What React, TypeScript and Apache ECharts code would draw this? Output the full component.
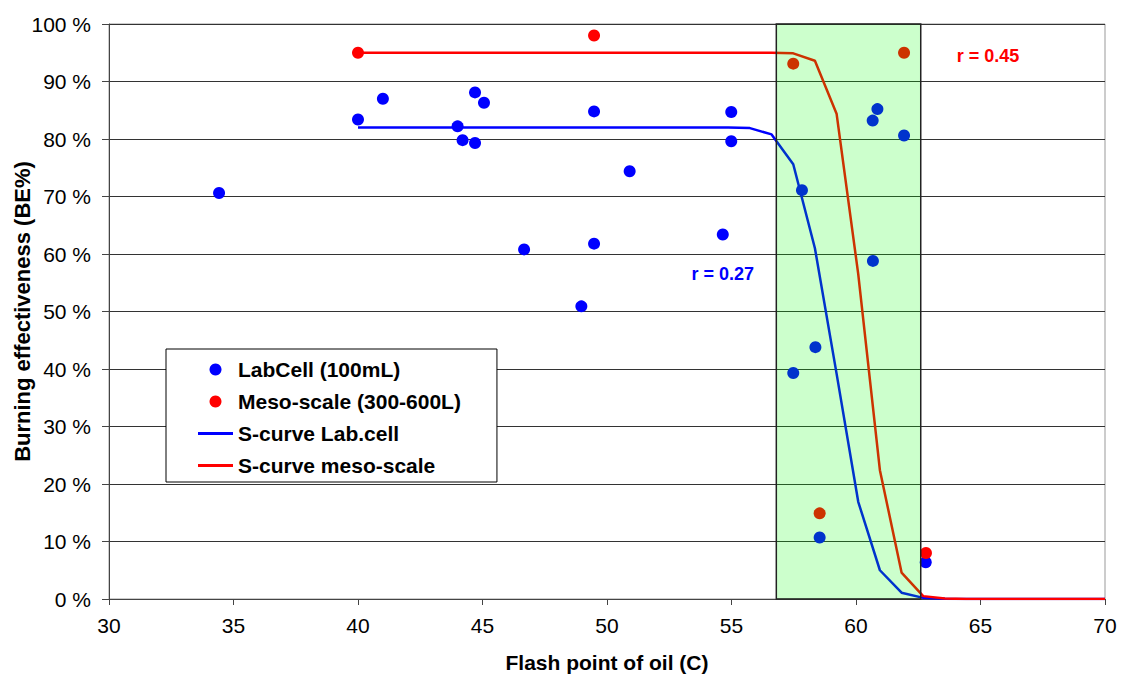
import React, { useEffect, useRef } from "react";
import * as echarts from "echarts";

// LabCell (100mL) measurements: [flash point (C), BE %]
const labCellPoints: number[][] = [
  [34.42, 70.6], [40.0, 83.4], [41.0, 87.0], [44.0, 82.2], [44.2, 79.8],
  [44.7, 88.1], [45.06, 86.3], [44.7, 79.3], [49.48, 84.8], [50.91, 74.4],
  [46.67, 60.8], [49.48, 61.8], [48.97, 50.9], [54.99, 84.7], [54.99, 79.6],
  [54.65, 63.4], [57.83, 71.1], [57.48, 39.3], [58.37, 43.8], [60.68, 58.8],
  [60.67, 83.2], [60.86, 85.2], [61.93, 80.6], [58.54, 10.7], [62.8, 6.4],
];

// Meso-scale (300-600L) measurements
const mesoPoints: number[][] = [
  [40.0, 95.0], [49.48, 98.0], [57.48, 93.1], [61.93, 95.0], [58.54, 14.9], [62.81, 8.0],
];

// S-curves
const curveX: number[] = [40, 54.87, 55.74, 56.61, 57.48, 58.35, 59.22, 60.09, 60.96, 61.83, 62.7, 63.57, 64.44, 70];
const labCurveY: number[] = [82, 82, 81.9, 80.8, 75.6, 61.0, 39.2, 16.9, 5.0, 1.1, 0.2, 0.03, 0, 0];
const mesoCurveY: number[] = [95, 95, 95, 95, 94.9, 93.6, 84.4, 56.5, 22.4, 4.6, 0.5, 0.1, 0, 0];

// Highlighted flash point range
const zoneRange: number[] = [56.8, 62.6];

// Correlation annotations
const annotations = [
  { x: 54.65, y: 56.6, text: "r = 0.27", color: "#0000ff" },
  { x: 65.3, y: 94.4, text: "r = 0.45", color: "#ff0000" },
];

const FONT = "'Liberation Sans', Arial, Helvetica, sans-serif";
const LINE_ICON = "path://M0,0h35v3h-35z";

export default function App() {
  const ref = useRef<HTMLDivElement>(null);

  useEffect(() => {
    if (!ref.current) return;
    const chart = echarts.init(ref.current, undefined, { renderer: "svg" });
    const option: any = {
      animation: false,
      backgroundColor: "#ffffff",
      textStyle: { fontFamily: FONT },
      grid: {
        left: 109,
        right: 16,
        top: 24,
        bottom: 78,
        show: true,
        borderColor: "#999",
        borderWidth: 1,
        backgroundColor: "transparent",
        outerBoundsMode: "none",
        containLabel: false,
      },
      legend: {
        orient: "vertical",
        left: 166,
        top: 349,
        padding: [10, 36, 6, 32],
        backgroundColor: "#ffffff",
        borderColor: "#000",
        borderWidth: 1,
        itemWidth: 35,
        itemHeight: 12,
        itemGap: 11,
        selectedMode: false,
        textStyle: { fontSize: 21, fontWeight: "bold", color: "#000", lineHeight: 20, fontFamily: FONT },
        data: [
          { name: "LabCell (100mL)", icon: "circle" },
          { name: "Meso-scale (300-600L)", icon: "circle" },
          { name: "S-curve Lab.cell", icon: LINE_ICON },
          { name: "S-curve meso-scale", icon: LINE_ICON },
        ],
      },
      xAxis: {
        type: "value",
        min: 30,
        max: 70,
        interval: 5,
        name: "Flash point of oil (C)",
        nameLocation: "middle",
        nameGap: 53,
        nameMoveOverlap: false,
        nameTextStyle: { fontSize: 21, fontWeight: "bold", color: "#000", fontFamily: FONT },
        axisLine: { show: true, lineStyle: { color: "#444", width: 1 } },
        axisTick: { show: true, length: 6, lineStyle: { color: "#444" } },
        axisLabel: { fontSize: 21, color: "#000", margin: 16, fontFamily: FONT },
        splitLine: { show: false },
      },
      yAxis: {
        type: "value",
        min: 0,
        max: 100,
        interval: 10,
        name: "Burning effectiveness (BE%)",
        nameLocation: "middle",
        nameGap: 76,
        nameMoveOverlap: false,
        nameTextStyle: { fontSize: 22, fontWeight: "bold", color: "#000", fontFamily: FONT },
        axisLine: { show: true, lineStyle: { color: "#444", width: 1 } },
        axisTick: { show: true, length: 7, lineStyle: { color: "#444" } },
        axisLabel: { fontSize: 21, color: "#000", margin: 18, formatter: "{value} %", fontFamily: FONT },
        splitLine: { show: true, lineStyle: { color: "#333", width: 1 } },
      },
      series: [
        {
          name: "S-curve Lab.cell",
          type: "line",
          data: curveX.map((x, i) => [x, labCurveY[i]]),
          symbol: "none",
          showSymbol: false,
          lineStyle: { color: "#0000ff", width: 2.5 },
          itemStyle: { color: "#0000ff" },
          z: 3,
        },
        {
          name: "S-curve meso-scale",
          type: "line",
          data: curveX.map((x, i) => [x, mesoCurveY[i]]),
          symbol: "none",
          showSymbol: false,
          lineStyle: { color: "#ff0000", width: 2.5 },
          itemStyle: { color: "#ff0000" },
          z: 3,
        },
        {
          name: "LabCell (100mL)",
          type: "scatter",
          data: labCellPoints,
          symbol: "circle",
          symbolSize: 12,
          itemStyle: { color: "#0000ff", opacity: 1 },
          z: 4,
        },
        {
          name: "Meso-scale (300-600L)",
          type: "scatter",
          data: mesoPoints,
          symbol: "circle",
          symbolSize: 12,
          itemStyle: { color: "#ff0000", opacity: 1 },
          z: 4,
        },
        {
          name: "zone",
          type: "custom",
          data: [[zoneRange[0], zoneRange[1]]],
          silent: true,
          z: 10,
          renderItem: (params: any, api: any) => {
            const p0 = api.coord([api.value(0), 100]);
            const p1 = api.coord([api.value(1), 0]);
            return {
              type: "rect",
              shape: { x: p0[0], y: p0[1], width: p1[0] - p0[0], height: p1[1] - p0[1] },
              style: { fill: "rgba(0,255,0,0.2)", stroke: "#222", lineWidth: 1.5 },
            };
          },
        },
        {
          name: "annotations",
          type: "scatter",
          silent: true,
          symbolSize: 0,
          z: 11,
          itemStyle: { opacity: 1 },
          data: annotations.map((a) => ({
            value: [a.x, a.y],
            itemStyle: { opacity: 1 },
            label: {
              show: true,
              position: "inside",
              formatter: a.text,
              color: a.color,
              opacity: 1,
              fontSize: 18,
              fontWeight: "bold",
              fontFamily: FONT,
            },
          })),
        },
      ],
    };
    chart.setOption(option);
    return () => {
      chart.dispose();
    };
  }, []);

  return (
    <div
      ref={ref}
      style={{ position: "fixed", left: 0, top: 0, width: 1121, height: 677, background: "#fff" }}
    />
  );
}
